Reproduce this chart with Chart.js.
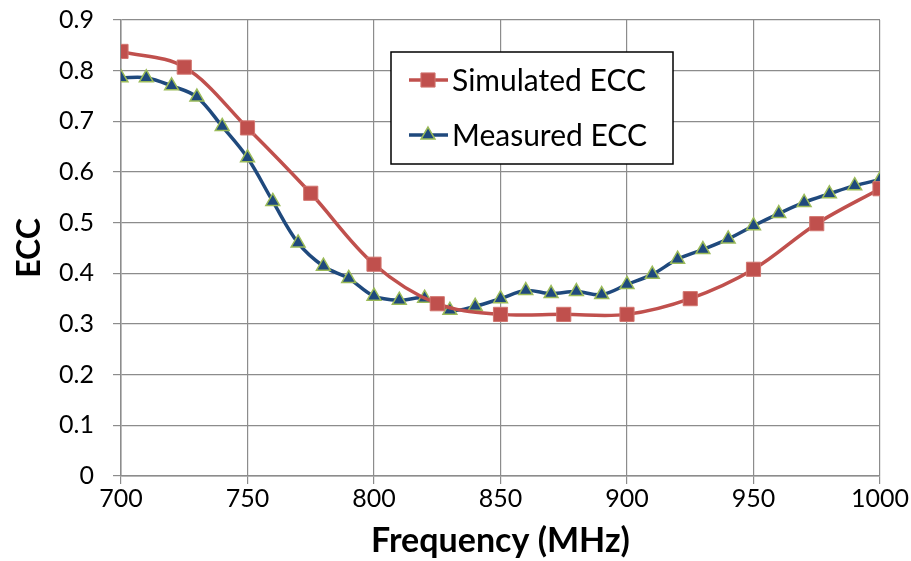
<!DOCTYPE html>
<html>
<head>
<meta charset="utf-8">
<script src="https://cdn.jsdelivr.net/npm/chart.js@4.4.0/dist/chart.umd.min.js"></script>
<style>
  html, body { margin: 0; padding: 0; background: #fff; }
  #wrap { width: 911px; height: 561px; position: relative; }
</style>
</head>
<body>
<div id="wrap"><canvas id="eccChart" width="911" height="561"></canvas></div>
<script>
// Simulated ECC, every 25 MHz
const simFreq = [700, 725, 750, 775, 800, 825, 850, 875, 900, 925, 950, 975, 1000];
const simEcc  = [0.838, 0.807, 0.687, 0.558, 0.418, 0.340, 0.319, 0.319, 0.319, 0.350, 0.408, 0.498, 0.567];

// Measured ECC, every 10 MHz
const measFreq = [700, 710, 720, 730, 740, 750, 760, 770, 780, 790,
                  800, 810, 820, 830, 840, 850, 860, 870, 880, 890,
                  900, 910, 920, 930, 940, 950, 960, 970, 980, 990, 1000];
const measEcc  = [0.786, 0.786, 0.770, 0.748, 0.690, 0.628, 0.542, 0.460, 0.414, 0.390,
                  0.355, 0.347, 0.351, 0.327, 0.335, 0.350, 0.366, 0.360, 0.364, 0.358,
                  0.378, 0.398, 0.428, 0.447, 0.468, 0.494, 0.518, 0.540, 0.557, 0.573, 0.585];

const xTicks = [700, 750, 800, 850, 900, 950, 1000];
const seriesNames = ['Simulated ECC', 'Measured ECC'];

const FONT = 'Lato, "Open Sans", sans-serif';
const RED = '#C0504D';
const BLUE = '#1F497D';

// legend drawn as a boxed key inside the plot, like the original spreadsheet chart
const boxLegend = {
  id: 'boxLegend',
  afterDraw(chart) {
    const ctx = chart.ctx;
    const x0 = 391, y0 = 52, w = 282, h = 112;
    ctx.save();
    ctx.fillStyle = '#fff';
    ctx.fillRect(x0, y0, w, h);
    ctx.strokeStyle = '#000';
    ctx.lineWidth = 1.5;
    ctx.strokeRect(x0, y0, w, h);

    const rows = [y0 + 28, y0 + 83];
    chart.data.datasets.forEach((ds, i) => {
      const y = rows[i];
      ctx.strokeStyle = ds.borderColor;
      ctx.lineWidth = 3.5;
      ctx.beginPath();
      ctx.moveTo(x0 + 18, y);
      ctx.lineTo(x0 + 57, y);
      ctx.stroke();
      ctx.fillStyle = ds.pointBackgroundColor;
      ctx.strokeStyle = ds.pointBorderColor;
      ctx.lineWidth = ds.pointBorderWidth;
      Chart.helpers.drawPoint(ctx, {
        pointStyle: ds.pointStyle,
        radius: ds.pointRadius,
        borderWidth: ds.pointBorderWidth
      }, x0 + 37, y);
      ctx.fillStyle = '#000';
      ctx.font = '30px ' + FONT;
      ctx.textBaseline = 'middle';
      ctx.textAlign = 'left';
      ctx.fillText(ds.label, x0 + 61, y + 1);
    });
    ctx.restore();
  }
};

const ctx = document.getElementById('eccChart');
new Chart(ctx, {
  type: 'line',
  data: {
    datasets: [
      {
        label: seriesNames[0],
        data: simFreq.map((f, i) => ({ x: f, y: simEcc[i] })),
        borderColor: RED,
        borderWidth: 3.5,
        tension: 0.35,
        pointStyle: 'rect',
        pointRadius: 10,
        pointBackgroundColor: RED,
        pointBorderColor: '#D2756F',
        pointBorderWidth: 1
      },
      {
        label: seriesNames[1],
        data: measFreq.map((f, i) => ({ x: f, y: measEcc[i] })),
        borderColor: BLUE,
        borderWidth: 3.5,
        tension: 0.35,
        pointStyle: 'triangle',
        pointRadius: 8,
        pointBackgroundColor: BLUE,
        pointBorderColor: '#9BBB59',
        pointBorderWidth: 1.5
      }
    ]
  },
  options: {
    responsive: false,
    animation: false,
    layout: { padding: { left: 0, right: 31, top: 20, bottom: 0 } },
    plugins: {
      legend: { display: false },
      tooltip: { enabled: false }
    },
    scales: {
      x: {
        type: 'linear',
        min: 700,
        max: 1000,
        afterBuildTicks: (scale) => { scale.ticks = xTicks.map(v => ({ value: v })); },
        afterFit: (scale) => {
          scale.height = 85;
          scale.paddingLeft = 0;
          scale.paddingRight = 0;
        },
        grid: { color: '#8C8C8C', lineWidth: 1.2, tickLength: 8 },
        border: { color: '#8C8C8C', width: 1.5 },
        ticks: {
          color: '#000',
          font: { family: FONT, size: 25 },
          padding: 0,
          maxRotation: 0,
          callback: (v) => String(v)
        },
        title: {
          display: true,
          text: 'Frequency (MHz)',
          color: '#000',
          font: { family: FONT, size: 34, weight: 'bold' },
          padding: { top: 0, bottom: 0 }
        }
      },
      y: {
        min: 0,
        max: 0.9,
        afterFit: (scale) => {
          scale.width = 121;
          scale.paddingTop = 0;
          scale.paddingBottom = 0;
        },
        grid: { color: '#8C8C8C', lineWidth: 1.2, tickLength: 8 },
        border: { color: '#8C8C8C', width: 1.5 },
        ticks: {
          stepSize: 0.1,
          color: '#000',
          font: { family: FONT, size: 25 },
          padding: 19,
          callback: (v) => (Math.round(v * 10) / 10).toString()
        },
        title: {
          display: true,
          text: 'ECC',
          color: '#000',
          font: { family: FONT, size: 32, weight: 'bold' },
          padding: { top: 10, bottom: 4 }
        }
      }
    }
  },
  plugins: [boxLegend]
});
</script>
</body>
</html>
